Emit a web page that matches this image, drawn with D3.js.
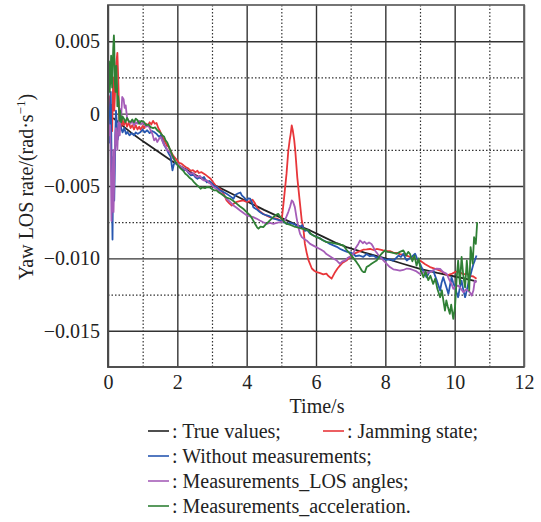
<!DOCTYPE html>
<html>
<head>
<meta charset="utf-8">
<script src="https://cdn.jsdelivr.net/npm/d3@7"></script>
<style>
  body { margin: 0; background: #fff; }
  svg text { font-family: "Liberation Serif", "DejaVu Serif", "Times New Roman", serif; fill: #222; }
</style>
</head>
<body>
<svg id="chart" width="541" height="522"></svg>
<script>
// values are in units of 1e-3 rad/s, times in s
var xTicks = [0, 2, 4, 6, 8, 10, 12];
var xMinor = [1, 3, 5, 7, 9, 11];
var yTicks = [5, 0, -5, -10, -15];
var yMinor = [2.5, -2.5, -7.5, -12.5];

var trueValues = [[0.15,-0.3],[0.4,-0.8],[0.7,-1.38],[1.0,-1.9],[1.4,-2.55],[1.84,-3.28],[2.2,-3.8],[2.6,-4.35],
  [3.0,-4.85],[3.5,-5.45],[4.0,-6.05],[4.5,-6.65],[5.0,-7.2],[5.5,-7.75],[5.83,-8.07],[6.2,-8.5],[6.6,-8.95],
  [6.88,-9.22],[7.4,-9.6],[8.0,-10.0],[8.5,-10.37],[9.0,-10.72],[9.5,-11.0],[10.0,-11.25],[10.3,-11.4],[10.63,-11.58]];

var jamming = [[0,-0.5],[0.03,1.2],[0.06,-0.8],[0.09,0.6],[0.12,-1.2],[0.15,2.5],[0.18,0.2],[0.21,1.8],[0.24,3.5],
  [0.27,4.2],[0.29,2.8],[0.31,1.2],[0.33,-1.2],[0.36,-0.2],[0.39,-0.9],[0.42,-0.4],[0.46,-0.8],[0.5,-0.5],[0.55,-0.9],
  [0.6,-0.6],[0.65,-1.0],[0.7,-0.8],[0.75,-1.1],[0.8,-0.8],[0.85,-1.1],[0.9,-0.9],[0.94,-1.1],[1.0,-0.85],[1.05,-1.0],
  [1.1,-0.7],[1.15,-0.85],[1.2,-0.6],[1.25,-0.75],[1.3,-0.5],[1.35,-0.7],[1.4,-0.65],[1.45,-1.0],[1.5,-1.2],[1.55,-1.5],
  [1.62,-1.85],[1.7,-2.2],[1.75,-2.3],[1.81,-2.6],[1.88,-2.9],[1.95,-3.1],[2.0,-3.25],[2.05,-3.4],[2.12,-3.45],
  [2.19,-3.6],[2.25,-3.7],[2.32,-3.8],[2.39,-3.95],[2.45,-3.9],[2.52,-4.05],[2.58,-3.95],[2.62,-4.1],[2.7,-4.05],
  [2.8,-4.2],[2.88,-4.35],[2.96,-4.5],[3.05,-4.8],[3.13,-5.05],[3.2,-5.15],[3.28,-5.3],[3.35,-5.6],[3.42,-6.0],
  [3.5,-6.2],[3.57,-6.35],[3.64,-6.2],[3.71,-6.1],[3.8,-6.05],[3.9,-6.0],[4.0,-6.1],[4.1,-6.05],[4.17,-5.95],
  [4.24,-6.2],[4.3,-6.5],[4.36,-6.7],[4.43,-6.85],[4.5,-6.95],[4.58,-7.05],[4.67,-7.15],[4.75,-7.2],[4.87,-7.25],
  [4.95,-7.35],[5.01,-7.38],[5.08,-5.8],[5.15,-4.15],[5.2,-2.6],[5.24,-1.85],[5.27,-1.4],[5.3,-0.81],[5.33,-1.15],
  [5.37,-1.8],[5.4,-2.5],[5.46,-4.4],[5.52,-5.8],[5.59,-7.4],[5.63,-7.8],[5.68,-9.0],[5.73,-9.6],[5.78,-10.1],
  [5.88,-10.7],[5.95,-10.85],[6.02,-10.95],[6.1,-11.0],[6.21,-11.1],[6.3,-11.05],[6.35,-11.2],[6.45,-11.4],
  [6.55,-10.95],[6.62,-10.7],[6.69,-10.5],[6.77,-10.3],[6.88,-10.15],[6.98,-9.9],[7.08,-9.7],[7.17,-9.6],
  [7.27,-9.5],[7.36,-9.4],[7.46,-9.38],[7.56,-9.35],[7.66,-9.42],[7.75,-9.35],[7.85,-9.4],[7.94,-9.45],
  [8.04,-9.5],[8.13,-9.5],[8.23,-9.6],[8.33,-9.62],[8.42,-9.7],[8.52,-9.75],[8.66,-9.85],[8.8,-10.0],[8.9,-10.05],
  [9.0,-10.15],[9.15,-10.4],[9.29,-10.6],[9.44,-10.72],[9.58,-10.84],[9.72,-11.05],[9.8,-11.18],[9.86,-11.1],
  [9.93,-11.05],[10.0,-10.95],[10.08,-10.9],[10.15,-10.95],[10.25,-11.1],[10.35,-11.05],[10.45,-11.2],
  [10.54,-11.25],[10.63,-11.4]];

var withoutMeas = [[0,0.5],[0.02,-1.0],[0.04,-2.0],[0.06,0.5],[0.08,1.5],[0.1,-2.5],[0.11,-5.0],[0.13,-8.7],
  [0.14,-6.0],[0.15,-3.0],[0.17,-4.5],[0.18,-6.0],[0.2,-3.5],[0.21,-1.5],[0.23,0.2],[0.25,-0.5],[0.28,-1.8],
  [0.3,-1.5],[0.33,-0.6],[0.37,-0.93],[0.42,-1.3],[0.47,-1.0],[0.52,-1.4],[0.56,-1.27],[0.62,-1.5],[0.68,-1.35],
  [0.75,-1.5],[0.8,-1.3],[0.86,-1.4],[0.94,-1.27],[1.0,-1.1],[1.06,-1.3],[1.13,-1.15],[1.2,-1.35],[1.27,-1.2],
  [1.33,-1.27],[1.4,-1.4],[1.47,-1.6],[1.52,-1.5],[1.57,-1.85],[1.63,-2.2],[1.7,-2.5],[1.76,-2.8],[1.81,-3.0],
  [1.84,-3.6],[1.86,-3.92],[1.9,-3.5],[1.95,-3.35],[2.02,-3.6],[2.1,-3.7],[2.19,-3.92],[2.25,-3.85],[2.32,-4.1],
  [2.39,-4.27],[2.46,-4.2],[2.52,-4.4],[2.58,-4.5],[2.65,-4.38],[2.72,-4.45],[2.77,-4.38],[2.85,-4.75],
  [2.92,-4.65],[2.96,-4.73],[3.04,-4.96],[3.12,-5.05],[3.23,-5.3],[3.32,-5.4],[3.42,-5.53],[3.52,-5.7],
  [3.62,-5.88],[3.68,-5.6],[3.76,-5.5],[3.82,-5.45],[3.86,-5.65],[3.93,-5.8],[4.0,-6.0],[4.05,-5.85],[4.1,-5.88],
  [4.15,-6.1],[4.19,-6.46],[4.28,-6.6],[4.38,-6.8],[4.48,-6.95],[4.58,-7.03],[4.67,-7.1],[4.77,-7.26],[4.86,-7.3],
  [4.96,-7.38],[5.05,-7.45],[5.15,-7.61],[5.25,-7.55],[5.35,-7.61],[5.45,-7.75],[5.54,-7.84],[5.6,-7.7],
  [5.68,-8.1],[5.75,-8.05],[5.83,-8.3],[5.92,-8.4],[6.0,-8.5],[6.1,-8.6],[6.21,-8.76],[6.3,-8.85],[6.4,-9.0],
  [6.5,-9.1],[6.6,-9.2],[6.7,-9.35],[6.79,-9.45],[6.9,-9.55],[7.0,-9.6],[7.07,-9.68],[7.15,-9.85],[7.25,-9.8],
  [7.36,-9.9],[7.46,-9.7],[7.55,-9.85],[7.65,-9.8],[7.75,-9.95],[7.85,-9.9],[7.94,-10.03],[8.04,-10.1],
  [8.13,-10.05],[8.23,-10.15],[8.3,-10.0],[8.38,-9.8],[8.45,-9.9],[8.52,-9.68],[8.58,-10.0],[8.62,-10.15],
  [8.7,-10.0],[8.78,-9.85],[8.86,-9.68],[8.93,-10.1],[9.0,-10.37],[9.08,-10.8],[9.19,-11.3],[9.28,-10.9],
  [9.38,-10.84],[9.48,-11.5],[9.58,-12.22],[9.62,-11.7],[9.67,-11.3],[9.75,-11.9],[9.82,-12.45],[9.87,-11.8],
  [9.91,-11.3],[9.96,-11.7],[10.01,-12.0],[10.06,-12.4],[10.1,-12.68],[10.15,-12.0],[10.2,-11.53],[10.25,-12.2],
  [10.3,-12.68],[10.35,-12.2],[10.39,-11.76],[10.44,-11.3],[10.49,-10.84],[10.54,-10.4],[10.58,-10.15],[10.63,-9.8]];

var losAngles = [[0,0.0],[0.02,-1.0],[0.04,-1.5],[0.06,-0.8],[0.08,-3.0],[0.1,-7.4],[0.12,-5.5],[0.13,-5.0],
  [0.15,-2.5],[0.16,-6.8],[0.18,-4.5],[0.19,-3.0],[0.21,-1.5],[0.23,-1.0],[0.25,-2.0],[0.27,-2.5],[0.29,-1.2],
  [0.31,-0.5],[0.34,-1.5],[0.36,0.3],[0.38,-0.2],[0.41,1.15],[0.45,1.0],[0.48,0.4],[0.51,0.57],[0.55,-0.3],
  [0.6,-0.5],[0.65,-0.69],[0.7,-0.5],[0.75,-0.8],[0.8,-0.6],[0.85,-0.69],[0.9,-0.5],[0.95,-0.75],[1.0,-0.6],
  [1.04,-0.69],[1.1,-0.9],[1.17,-0.85],[1.23,-1.15],[1.28,-1.4],[1.33,-1.85],[1.38,-1.7],[1.42,-1.96],
  [1.47,-1.75],[1.52,-1.62],[1.57,-1.9],[1.62,-2.19],[1.67,-2.3],[1.71,-2.54],[1.76,-2.6],[1.81,-2.77],
  [1.88,-3.1],[1.95,-3.35],[2.02,-3.5],[2.1,-3.65],[2.19,-3.8],[2.27,-3.95],[2.33,-4.05],[2.39,-4.15],
  [2.45,-4.1],[2.52,-4.3],[2.58,-4.38],[2.65,-4.3],[2.72,-4.55],[2.77,-4.62],[2.85,-4.6],[2.9,-4.75],
  [2.96,-4.84],[3.04,-5.07],[3.13,-5.2],[3.23,-5.42],[3.32,-5.6],[3.42,-5.88],[3.52,-6.1],[3.62,-6.34],
  [3.71,-6.5],[3.81,-6.69],[3.9,-6.85],[4.0,-7.03],[4.1,-7.1],[4.19,-7.15],[4.28,-7.25],[4.38,-7.38],
  [4.48,-7.5],[4.58,-7.61],[4.67,-7.55],[4.77,-7.61],[4.86,-7.55],[4.96,-7.5],[5.03,-7.45],[5.1,-7.38],
  [5.15,-7.1],[5.2,-6.8],[5.25,-6.45],[5.3,-6.0],[5.34,-6.1],[5.39,-6.46],[5.44,-7.2],[5.49,-7.84],[5.54,-8.3],
  [5.59,-8.53],[5.68,-8.7],[5.75,-8.8],[5.83,-9.0],[5.95,-9.15],[6.07,-9.3],[6.15,-9.4],[6.22,-9.5],[6.3,-9.7],
  [6.4,-9.85],[6.5,-10.0],[6.6,-10.15],[6.69,-10.37],[6.76,-10.2],[6.84,-10.15],[6.92,-9.95],[7.0,-9.85],
  [7.07,-9.7],[7.14,-9.3],[7.22,-9.0],[7.27,-8.76],[7.35,-8.95],[7.4,-8.85],[7.46,-9.0],[7.53,-8.9],[7.6,-9.0],
  [7.65,-9.2],[7.7,-9.45],[7.78,-9.7],[7.85,-9.9],[7.95,-10.15],[8.04,-10.37],[8.13,-10.6],[8.23,-10.75],
  [8.32,-10.8],[8.42,-10.85],[8.52,-10.8],[8.62,-10.7],[8.71,-10.72],[8.8,-10.8],[8.9,-10.9],[9.0,-11.07],
  [9.1,-10.95],[9.2,-11.0],[9.29,-10.95],[9.4,-10.8],[9.48,-10.7],[9.58,-10.72],[9.67,-10.95],[9.77,-11.07],
  [9.85,-11.5],[9.91,-11.76],[9.96,-12.1],[10.03,-11.95],[10.1,-11.87],[10.18,-12.1],[10.25,-12.34],
  [10.32,-12.15],[10.39,-12.22],[10.44,-12.34],[10.49,-12.57],[10.54,-12.22],[10.58,-11.53],[10.63,-11.65]];

var acceleration = [[0,1.0],[0.02,3.0],[0.03,3.6],[0.05,1.5],[0.07,2.5],[0.09,4.0],[0.11,2.3],[0.12,1.8],
  [0.14,3.5],[0.15,4.5],[0.17,5.4],[0.18,4.8],[0.2,2.0],[0.22,1.5],[0.24,3.3],[0.26,2.0],[0.27,0.5],[0.29,1.2],
  [0.31,0.8],[0.33,-0.5],[0.35,0.2],[0.38,-0.6],[0.42,-0.2],[0.46,-0.35],[0.5,-0.6],[0.55,-0.3],[0.6,-0.55],
  [0.65,-0.58],[0.7,-0.4],[0.75,-0.6],[0.8,-0.35],[0.85,-0.46],[0.9,-0.7],[0.96,-0.5],[1.04,-0.58],[1.1,-0.8],
  [1.17,-0.75],[1.23,-0.93],[1.3,-1.0],[1.36,-0.95],[1.42,-1.15],[1.5,-1.3],[1.57,-1.5],[1.62,-1.6],[1.66,-1.85],
  [1.71,-2.0],[1.76,-2.3],[1.81,-2.6],[1.86,-2.9],[1.9,-3.1],[1.95,-3.35],[2.02,-3.6],[2.1,-3.8],[2.17,-3.95],
  [2.23,-4.15],[2.29,-4.27],[2.36,-4.45],[2.42,-4.55],[2.48,-4.73],[2.55,-4.9],[2.62,-5.05],[2.67,-5.19],
  [2.72,-5.1],[2.8,-5.15],[2.86,-5.07],[2.94,-5.1],[3.0,-5.2],[3.06,-5.3],[3.13,-5.3],[3.2,-5.45],[3.27,-5.55],
  [3.33,-5.65],[3.42,-5.8],[3.52,-5.88],[3.6,-6.0],[3.71,-6.22],[3.8,-6.4],[3.9,-6.57],[4.0,-6.8],[4.1,-7.03],
  [4.17,-7.3],[4.24,-7.61],[4.3,-7.85],[4.34,-7.95],[4.4,-7.8],[4.48,-7.84],[4.55,-7.65],[4.62,-7.5],[4.7,-7.3],
  [4.77,-7.15],[4.84,-7.0],[4.91,-6.92],[4.96,-7.1],[5.01,-7.26],[5.08,-7.45],[5.15,-7.61],[5.22,-7.65],
  [5.3,-7.72],[5.37,-7.8],[5.44,-7.84],[5.52,-7.9],[5.59,-7.95],[5.68,-8.0],[5.78,-8.07],[5.85,-8.3],
  [5.92,-8.42],[6.02,-8.53],[6.1,-8.6],[6.2,-8.75],[6.3,-8.88],[6.4,-8.9],[6.5,-8.95],[6.6,-9.0],[6.7,-9.05],
  [6.79,-9.1],[6.88,-9.4],[6.98,-9.68],[7.07,-9.95],[7.17,-10.26],[7.25,-10.55],[7.32,-10.84],[7.37,-10.95],
  [7.41,-10.95],[7.46,-10.6],[7.53,-10.5],[7.6,-10.37],[7.68,-10.25],[7.75,-10.15],[7.82,-9.9],[7.89,-9.68],
  [7.99,-9.45],[8.06,-9.55],[8.13,-9.57],[8.23,-9.62],[8.33,-9.68],[8.42,-9.55],[8.52,-9.45],[8.6,-9.8],
  [8.66,-9.55],[8.71,-9.68],[8.78,-10.2],[8.84,-9.8],[8.9,-10.5],[8.96,-10.0],[9.02,-10.8],[9.1,-11.3],
  [9.16,-10.9],[9.24,-11.5],[9.3,-11.2],[9.38,-11.76],[9.44,-11.4],[9.5,-12.1],[9.58,-12.68],[9.63,-12.2],
  [9.68,-13.0],[9.72,-13.6],[9.76,-12.9],[9.8,-13.3],[9.86,-13.83],[9.9,-13.2],[9.96,-14.18],[10.01,-13.37],
  [10.06,-11.3],[10.1,-10.15],[10.15,-11.76],[10.2,-9.9],[10.25,-11.2],[10.3,-12.0],[10.35,-10.15],
  [10.42,-12.22],[10.46,-9.22],[10.52,-10.37],[10.56,-8.53],[10.61,-9.0],[10.65,-7.5]];

var series = [
  {name: ": True values;", data: trueValues, color: "#222222"},
  {name: ": Jamming state;", data: jamming, color: "#e8363a"},
  {name: ": Without measurements;", data: withoutMeas, color: "#2757b0"},
  {name: ": Measurements_LOS angles;", data: losAngles, color: "#a55db8"},
  {name: ": Measurements_acceleration.", data: acceleration, color: "#2f8035"}
];

var FONT = '"Liberation Serif", "DejaVu Serif", "Times New Roman", serif';

var svg = d3.select("#chart");
var margin = {top: 5, left: 108},
    width = 416,
    height = 362;

var x = d3.scaleLinear().domain([0, 12]).range([0, width]);
var y = d3.scaleLinear().domain([-17.5, 7.5]).range([height, 0]);

var g = svg.append("g")
    .attr("transform", "translate(" + margin.left + "," + margin.top + ")");

// minor dotted grid
g.append("g")
    .attr("transform", "translate(0," + height + ")")
    .call(d3.axisBottom(x).tickValues(xMinor).tickSize(-height).tickFormat(""))
    .call(function(a) {
      a.select(".domain").remove();
      a.selectAll("line").attr("stroke", "#333").attr("stroke-width", 1.2).attr("stroke-dasharray", "1.5,2");
    });
g.append("g")
    .call(d3.axisLeft(y).tickValues(yMinor).tickSize(-width).tickFormat(""))
    .call(function(a) {
      a.select(".domain").remove();
      a.selectAll("line").attr("stroke", "#333").attr("stroke-width", 1.2).attr("stroke-dasharray", "1.5,2");
    });

// major solid grid
g.append("g")
    .attr("transform", "translate(0," + height + ")")
    .call(d3.axisBottom(x).tickValues(xTicks).tickSize(-height).tickFormat(""))
    .call(function(a) {
      a.select(".domain").remove();
      a.selectAll("line").attr("stroke", "#333").attr("stroke-width", 1.4);
    });
g.append("g")
    .call(d3.axisLeft(y).tickValues(yTicks).tickSize(-width).tickFormat(""))
    .call(function(a) {
      a.select(".domain").remove();
      a.selectAll("line").attr("stroke", "#333").attr("stroke-width", 1.4);
    });

// the curves
var line = d3.line()
    .x(function(d) { return x(d[0]); })
    .y(function(d) { return y(d[1]); });

series.forEach(function(s) {
  g.append("path")
      .datum(s.data)
      .attr("fill", "none")
      .attr("stroke", s.color)
      .attr("stroke-width", 1.8)
      .attr("stroke-linejoin", "round")
      .attr("d", line);
});

// frame
g.append("rect")
    .attr("width", width).attr("height", height)
    .attr("fill", "none").attr("stroke", "#666").attr("stroke-width", 1.8);
g.append("path")
    .attr("d", "M0,0V" + height + "H" + width)
    .attr("fill", "none").attr("stroke", "#444").attr("stroke-width", 1.6);

// tick labels
g.append("g")
    .attr("transform", "translate(0," + height + ")")
    .attr("font-family", FONT)
    .call(d3.axisBottom(x).tickValues(xTicks).tickSize(0).tickPadding(8))
    .call(function(a) {
      a.attr("font-family", FONT).attr("font-size", 20);
      a.select(".domain").remove();
      a.selectAll("text").style("font-family", FONT).style("font-size", "20px").attr("fill", "#222");
    });
g.append("g")
    .call(d3.axisLeft(y).tickValues(yTicks).tickSize(0).tickPadding(8)
      .tickFormat(function(d) { return d === 0 ? "0" : d3.format(".3f")(d / 1000).replace("-", "\u2212"); }))
    .call(function(a) {
      a.attr("font-family", FONT).attr("font-size", 20);
      a.select(".domain").remove();
      a.selectAll("text").style("font-family", FONT).style("font-size", "20px").attr("fill", "#222");
    });

// axis titles
svg.append("text")
    .attr("x", 317).attr("y", 413)
    .attr("text-anchor", "middle")
    .style("font-family", FONT).style("font-size", "20px")
    .text("Time/s");

var yl = svg.append("text")
    .attr("transform", "translate(33,187) rotate(-90)")
    .attr("text-anchor", "middle")
    .style("font-family", FONT).style("font-size", "20px");
yl.append("tspan").text("Yaw LOS rate/(rad\u00b7s");
yl.append("tspan").style("font-size", "13px").attr("dy", -8).text("\u22121");
yl.append("tspan").attr("dy", 8).text(")");

// legend
var legendPos = [[148, 431], [323, 431], [148, 456], [148, 481], [148, 506]];
series.forEach(function(s, i) {
  var p = legendPos[i];
  svg.append("line")
      .attr("x1", p[0]).attr("x2", p[0] + 21)
      .attr("y1", p[1]).attr("y2", p[1])
      .attr("stroke", s.color).attr("stroke-width", 1.6);
  svg.append("text")
      .attr("x", p[0] + 24).attr("y", p[1] + 7)
      .style("font-family", FONT).style("font-size", "20px")
      .text(s.name);
});
</script>
</body>
</html>
